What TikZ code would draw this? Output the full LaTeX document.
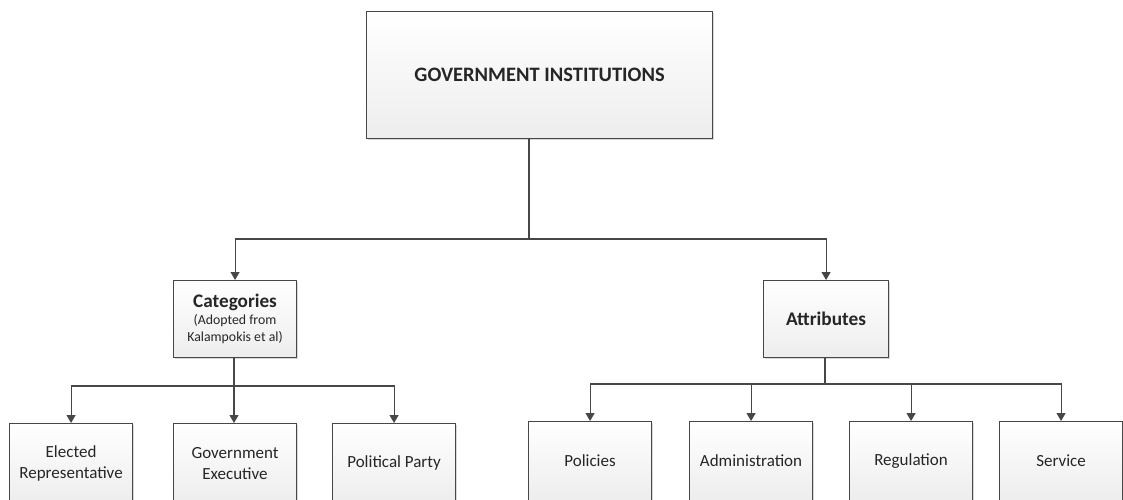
\documentclass[tikz,border=0pt]{standalone}
\usepackage{fontspec}
\setmainfont{Carlito}
\usetikzlibrary{arrows.meta,shadows}
\definecolor{edge}{HTML}{474747}
\tikzset{
  x=1pt, y=-1pt,
  box/.style={draw=edge, line width=1.1pt, top color=white, bottom color=black!7,
    drop shadow={shadow xshift=1.5pt, shadow yshift=-1.5pt, opacity=0.25, fill=black!60},
    align=center, inner sep=0pt, anchor=north west, text=black!85},
  leaf/.style={box, minimum width=123pt, minimum height=79pt, font=\fontsize{17}{21}\selectfont},
  link/.style={draw=edge, line width=1.1pt},
  arr/.style={link, -{Triangle[length=8pt, width=9pt]}},
}
\begin{document}
\begin{tikzpicture}
\useasboundingbox (0,0) rectangle (1123,500);
% top node
\node[box, minimum width=346pt, minimum height=127pt, font=\fontsize{20.5}{24}\selectfont\bfseries] (gov) at (366,11) {GOVERNMENT INSTITUTIONS};
% second level
\node[box, minimum width=123pt, minimum height=77pt, font=\fontsize{13.8}{17}\selectfont] (cat) at (173,280)
  {\textbf{\fontsize{19.2}{21}\selectfont Categories}\\[0pt](Adopted from\\Kalampokis et al)};
\node[box, minimum width=125pt, minimum height=77pt, font=\fontsize{19.3}{22}\selectfont\bfseries] (att) at (763,280) {Attributes};
% categories leaves
\node[leaf] (ele) at (9,423) {Elected\\Representative};
\node[leaf] (exe) at (173,423) {Government\\Executive};
\node[leaf] (par) at (332,423) {Political Party};
% attribute leaves
\node[leaf] (pol) at (528,421) {Policies};
\node[leaf] (adm) at (689,421) {Administration};
\node[leaf] (reg) at (849,421) {Regulation};
\node[leaf] (ser) at (999,421) {Service};
% connectors
\coordinate (j0) at (529,239);
\coordinate (j1) at (234,386);
\coordinate (j2) at (825,384);
\draw[link] (j0 |- gov.south) -- (j0);
\draw[arr] (j0) -| (cat.north);
\draw[arr] (j0) -| (att.north);
\draw[link] (j1 |- cat.south) -- (j1);
\draw[arr] (j1) -| (ele.north);
\draw[arr] (j1) -- (j1 |- exe.north);
\draw[arr] (j1) -| (par.north);
\draw[link] (j2 |- att.south) -- (j2);
\draw[arr] (j2) -| (pol.north);
\draw[arr] (j2) -| (adm.north);
\draw[arr] (j2) -| (reg.north);
\draw[arr] (j2) -| (ser.north);
\end{tikzpicture}
\end{document}
